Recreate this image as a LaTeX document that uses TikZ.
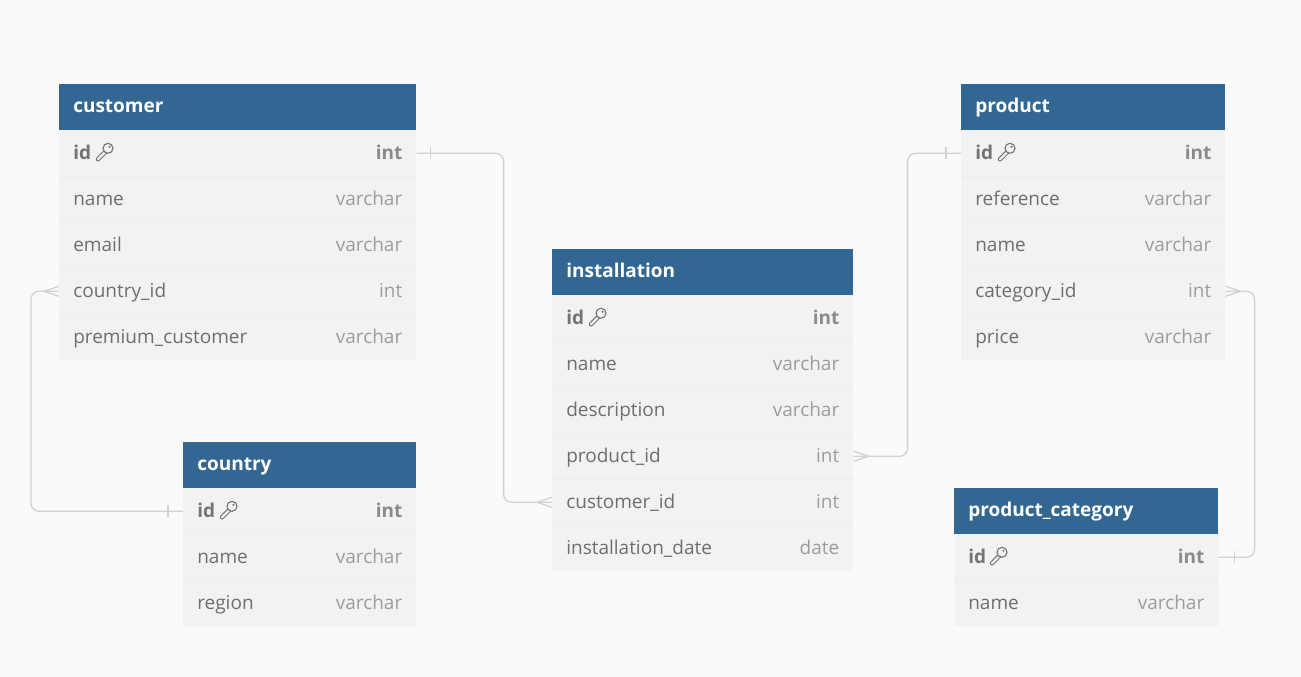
\documentclass[tikz,border=0pt]{standalone}
\usepackage{fontspec}
\setmainfont{Open Sans}

\definecolor{pagebg}{HTML}{FAFAFA}
\definecolor{headblue}{RGB}{51,103,147}
\definecolor{rowgray}{HTML}{F2F2F2}
\definecolor{sepgray}{HTML}{EDEDED}
\definecolor{nametext}{HTML}{6E6E6E}
\definecolor{typetext}{HTML}{9C9C9C}
\definecolor{keytext}{HTML}{747474}
\definecolor{keytype}{HTML}{8A8A8A}
\definecolor{relgray}{HTML}{D2D2D2}

\tikzset{
  tblhead/.style={anchor=north west,fill=headblue,text=white,
    font=\fontsize{19}{23}\selectfont\bfseries,minimum height=46,
    inner xsep=14,inner ysep=0,text height=14,text depth=3,align=left},
  tblrow/.style={anchor=north west,fill=rowgray,text=nametext,
    font=\fontsize{19}{23}\selectfont,minimum height=46,
    inner xsep=14,inner ysep=0,text height=15,text depth=2,align=left},
  keyrow/.style={tblrow,font=\fontsize{19}{23}\selectfont\bfseries,text=keytext},
  tbltype/.style={anchor=east,inner xsep=14,inner ysep=0,text=typetext,
    font=\fontsize{19}{23}\selectfont,text height=15,text depth=2},
  keytbltype/.style={tbltype,font=\fontsize{19}{23}\selectfont\bfseries,text=keytype},
  sep/.style={draw=sepgray,line width=0.8},
  rel/.style={draw=relgray,line width=1.3},
  keyicon/.pic={
    \draw[keytext,line width=1.1,double=rowgray,double distance=2.2,line cap=round]
      (-7,6) -- (0,-1);
    \draw[keytext,line width=1.1,fill=rowgray] (3,-5) circle (5);
    \fill[keytext] (4.5,-6.5) circle (1.1);
  }
}

\begin{document}
\begin{tikzpicture}[x=1pt,y=-1pt,line width=0.6pt]

\fill[pagebg] (0,0) rectangle (1301,677);
\useasboundingbox (0,0) rectangle (1301,677);

% customer
\node[tblhead,text width=329] (cust) at (59,84) {customer};
\node[keyrow,text width=329] (cust-0) at (59,130) {id};
\node[keytbltype] (cust-0t) at (cust-0.east) {int};
\pic at ([xshift=46]cust-0.west) {keyicon};
\foreach \lbl/\typ [count=\i] in {name/varchar,email/varchar,country\_id/int,premium\_customer/varchar}{
  \node[tblrow,text width=329] (cust-\i) at (59,{130+46*\i}) {\lbl};
  \node[tbltype] (cust-\i t) at (cust-\i.east) {\typ};
  \draw[sep] (cust-\i.north west) -- (cust-\i.north east);
}

% country
\node[tblhead,text width=205] (ctry) at (183,442) {country};
\node[keyrow,text width=205] (ctry-0) at (183,488) {id};
\node[keytbltype] (ctry-0t) at (ctry-0.east) {int};
\pic at ([xshift=46]ctry-0.west) {keyicon};
\foreach \lbl/\typ [count=\i] in {name/varchar,region/varchar}{
  \node[tblrow,text width=205] (ctry-\i) at (183,{488+46*\i}) {\lbl};
  \node[tbltype] (ctry-\i t) at (ctry-\i.east) {\typ};
  \draw[sep] (ctry-\i.north west) -- (ctry-\i.north east);
}

% installation
\node[tblhead,text width=273] (inst) at (552,249) {installation};
\node[keyrow,text width=273] (inst-0) at (552,295) {id};
\node[keytbltype] (inst-0t) at (inst-0.east) {int};
\pic at ([xshift=46]inst-0.west) {keyicon};
\foreach \lbl/\typ [count=\i] in {name/varchar,description/varchar,product\_id/int,customer\_id/int,installation\_date/date}{
  \node[tblrow,text width=273] (inst-\i) at (552,{295+46*\i}) {\lbl};
  \node[tbltype] (inst-\i t) at (inst-\i.east) {\typ};
  \draw[sep] (inst-\i.north west) -- (inst-\i.north east);
}

% product
\node[tblhead,text width=236] (prod) at (961,84) {product};
\node[keyrow,text width=236] (prod-0) at (961,130) {id};
\node[keytbltype] (prod-0t) at (prod-0.east) {int};
\pic at ([xshift=46]prod-0.west) {keyicon};
\foreach \lbl/\typ [count=\i] in {reference/varchar,name/varchar,category\_id/int,price/varchar}{
  \node[tblrow,text width=236] (prod-\i) at (961,{130+46*\i}) {\lbl};
  \node[tbltype] (prod-\i t) at (prod-\i.east) {\typ};
  \draw[sep] (prod-\i.north west) -- (prod-\i.north east);
}

% product_category
\node[tblhead,text width=236] (pcat) at (954,488) {product\_category};
\node[keyrow,text width=236] (pcat-0) at (954,534) {id};
\node[keytbltype] (pcat-0t) at (pcat-0.east) {int};
\pic at ([xshift=45]pcat-0.west) {keyicon};
\foreach \lbl/\typ [count=\i] in {name/varchar}{
  \node[tblrow,text width=236] (pcat-\i) at (954,{534+46*\i}) {\lbl};
  \node[tbltype] (pcat-\i t) at (pcat-\i.east) {\typ};
  \draw[sep] (pcat-\i.north west) -- (pcat-\i.north east);
}

% relations
\draw[rel,rounded corners=8] (cust-0.east) -- ++(87,0) |- (inst-4.west);
\draw[rel] (cust-0.east) ++(14,-6) -- ++(0,12);
\draw[rel] (inst-4.west) ++(-15,0) -- ++(15,-5) ++(-15,5) -- ++(15,5);

\draw[rel,rounded corners=8] (inst-3.east) -- ++(54,0) |- (prod-0.west);
\draw[rel] (prod-0.west) ++(-15,-6) -- ++(0,12);
\draw[rel] (inst-3.east) ++(15,0) -- ++(-15,-5) ++(15,5) -- ++(-15,5);

\draw[rel,rounded corners=8] (prod-3.east) -- ++(29,0) |- (pcat-0.east);
\draw[rel] (pcat-0.east) ++(16,-6) -- ++(0,12);
\draw[rel] (prod-3.east) ++(15,0) -- ++(-15,-5) ++(15,5) -- ++(-15,5);

\draw[rel,rounded corners=8] (cust-3.west) -- ++(-28,0) |- (ctry-0.west);
\draw[rel] (ctry-0.west) ++(-15,-6) -- ++(0,12);
\draw[rel] (cust-3.west) ++(-15,0) -- ++(15,-5) ++(-15,5) -- ++(15,5);

\end{tikzpicture}
\end{document}
